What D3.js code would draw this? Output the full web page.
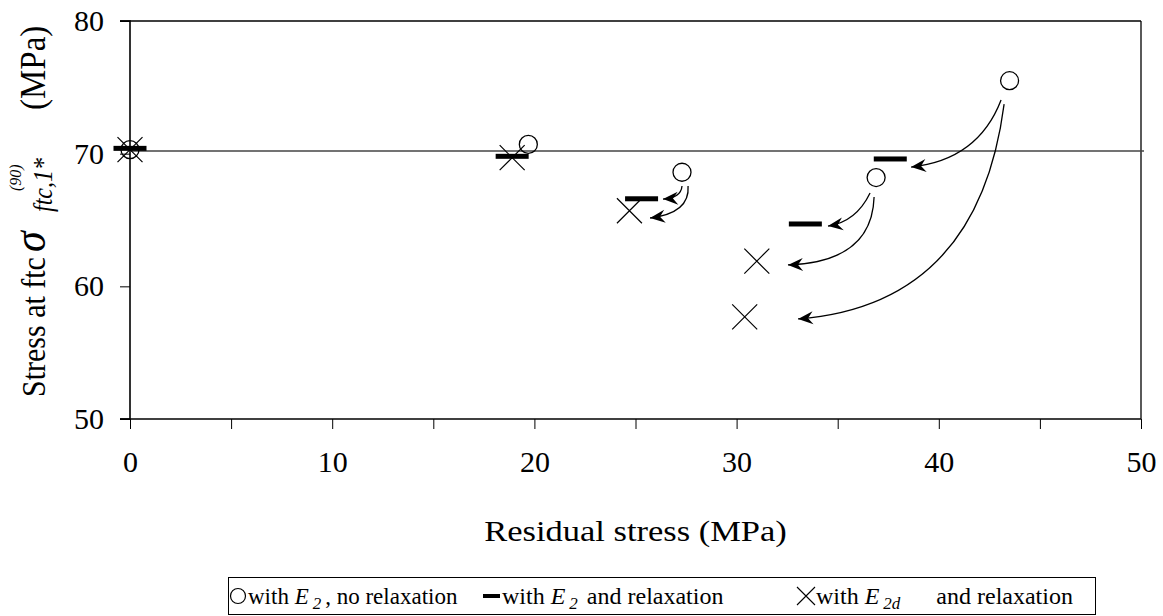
<!DOCTYPE html>
<html>
<head>
<meta charset="utf-8">
<script src="https://cdn.jsdelivr.net/npm/d3@7"></script>
<style>
  body { margin: 0; background: #fff; }
  text { font-family: "Liberation Serif", "Times New Roman", serif; fill: #000; }
</style>
</head>
<body>
<svg id="chart" width="1163" height="616"></svg>
<script>
// with E2, no relaxation (circles)
const noRelaxX = [0, 19.7, 27.3, 36.9, 43.5];
const noRelaxY = [70.3, 70.7, 68.6, 68.2, 75.5];
// with E2 and relaxation (dashes)
const relaxX = [0, 18.9, 25.3, 33.4, 37.6];
const relaxY = [70.4, 69.8, 66.6, 64.7, 69.6];
// with E2d and relaxation (crosses)
const relaxDX = [0, 18.9, 24.7, 31.0, 30.4];
const relaxDY = [70.3, 69.7, 65.7, 61.9, 57.7];

const refLine = 70.2;
const xTicks = [0, 5, 10, 15, 20, 25, 30, 35, 40, 45, 50];
const yTicks = [50, 60, 70, 80];

// curved arrows: start, control, end (data units)
const arrows = [
  [[27.30, 67.56], [27.25, 66.65], [26.36, 66.58]],
  [[27.60, 67.56], [27.70, 65.52], [25.72, 65.15]],
  [[36.60, 67.03], [35.91, 64.85], [34.52, 64.54]],
  [[36.80, 66.73], [36.70, 61.83], [32.54, 61.61]],
  [[43.08, 74.04], [41.94, 69.52], [38.63, 68.99]],
  [[43.23, 73.74], [41.94, 58.59], [33.04, 57.54]]
];

const serif = "'Liberation Serif', 'Times New Roman', serif";
const margin = {top: 21, left: 130, right: 22, bottom: 197};
const W = 1163, H = 616;
const w = W - margin.left - margin.right;
const h = H - margin.top - margin.bottom;

const svg = d3.select("#chart");
const g = svg.append("g").attr("transform", `translate(${margin.left},${margin.top})`);

const x = d3.scaleLinear().domain([0, 50]).range([0, w]);
const y = d3.scaleLinear().domain([50, 80]).range([h, 0]);

// frame top and right
g.append("line").attr("x1", -10).attr("x2", w).attr("y1", 0).attr("y2", 0)
  .attr("stroke", "#000").attr("stroke-width", 1.3);
g.append("line").attr("x1", w).attr("x2", w).attr("y1", 0).attr("y2", h)
  .attr("stroke", "#000").attr("stroke-width", 1.3);

// axes
const yAxis = g.append("g")
  .call(d3.axisLeft(y).tickValues(yTicks).tickSize(10).tickPadding(16).tickFormat(d3.format("d")));
const xAxis = g.append("g").attr("transform", `translate(0,${h})`)
  .call(d3.axisBottom(x).tickValues(xTicks).tickSize(10).tickPadding(22)
    .tickFormat(d => d % 10 === 0 ? d : ""));
[xAxis, yAxis].forEach(a => {
  a.attr("font-family", serif).attr("font-size", 30);
  a.select(".domain").attr("stroke", "#000").attr("stroke-width", 1.6);
  a.selectAll(".tick line").attr("stroke", "#000").attr("stroke-width", 1);
  a.selectAll("text").attr("font-family", serif).style("font-family", serif).style("font-size", "30px");
});
yAxis.select(".domain").attr("d", `M-10,${h}H0V0H-10`);
xAxis.select(".domain").attr("d", `M-10,0H${w}`);

// reference line
g.append("line")
  .attr("x1", x(0)).attr("x2", x(50) + 3)
  .attr("y1", y(refLine)).attr("y2", y(refLine))
  .attr("stroke", "#444").attr("stroke-width", 1.3);

// arrow marker
svg.append("defs").append("marker")
  .attr("id", "head").attr("markerUnits", "userSpaceOnUse")
  .attr("viewBox", "-16 -8 18 16").attr("refX", 0).attr("refY", 0)
  .attr("markerWidth", 18).attr("markerHeight", 16).attr("orient", "auto")
  .append("path").attr("d", "M0,0 L-15,-6.5 L-10,0 L-15,6.5 Z").attr("fill", "#000");

g.selectAll("path.arrow").data(arrows).enter().append("path")
  .attr("class", "arrow")
  .attr("d", d => {
    const p = d3.path();
    p.moveTo(x(d[0][0]), y(d[0][1]));
    p.quadraticCurveTo(x(d[1][0]), y(d[1][1]), x(d[2][0]), y(d[2][1]));
    return p.toString();
  })
  .attr("fill", "none").attr("stroke", "#000").attr("stroke-width", 1.3)
  .attr("marker-end", "url(#head)");

// dashes
const relax = relaxX.map((v, i) => [v, relaxY[i]]);
g.selectAll("rect.dash").data(relax).enter().append("rect")
  .attr("class", "dash")
  .attr("x", d => x(d[0]) - 16.5).attr("y", d => y(d[1]) - 2.5)
  .attr("width", 33).attr("height", 5).attr("fill", "#000");

// crosses
const crossPath = "M-12.5,-12.5L12.5,12.5M-12.5,12.5L12.5,-12.5";
const relaxD = relaxDX.map((v, i) => [v, relaxDY[i]]);
g.selectAll("path.cross").data(relaxD).enter().append("path")
  .attr("class", "cross")
  .attr("transform", d => `translate(${x(d[0])},${y(d[1])})`)
  .attr("d", crossPath).attr("stroke", "#000").attr("stroke-width", 1.2).attr("fill", "none");

// circles
const noRelax = noRelaxX.map((v, i) => [v, noRelaxY[i]]);
g.selectAll("circle.pt").data(noRelax).enter().append("circle")
  .attr("class", "pt")
  .attr("cx", d => x(d[0])).attr("cy", d => y(d[1])).attr("r", 9)
  .attr("fill", "none").attr("stroke", "#000").attr("stroke-width", 1.3);

// x title
svg.append("text")
  .attr("transform", `translate(${margin.left + w / 2},541) scale(1.15,1)`)
  .attr("text-anchor", "middle").style("font-size", "30px")
  .text("Residual stress (MPa)");

// y title (slightly widened across, like the original)
const yt = svg.append("g").attr("transform", "translate(45,0) scale(1.1,1) translate(-45,0) rotate(-90)");
yt.append("text").attr("x", -397).attr("y", 45).style("font-size", "30px").text("Stress at ftc");
yt.append("text").attr("x", -252).attr("y", 45).style("font-size", "42px")
  .style("font-style", "italic").text("σ");
yt.append("text").attr("x", -191).attr("y", 23).style("font-size", "16px")
  .style("font-style", "italic").text("(90)");
yt.append("text").attr("x", -212).attr("y", 51).style("font-size", "24px")
  .style("font-style", "italic").text("ftc,1*");
yt.append("text").attr("x", -110).attr("y", 45).style("font-size", "33px").text("(MPa)");

// legend
const leg = svg.append("g");
leg.append("rect").attr("x", 228.5).attr("y", 577.5).attr("width", 867).attr("height", 37)
  .attr("fill", "#fff").attr("stroke", "#000").attr("stroke-width", 1);
const ly = 604;
leg.append("circle").attr("cx", 238).attr("cy", 596).attr("r", 7.5)
  .attr("fill", "none").attr("stroke", "#000").attr("stroke-width", 1.2);
leg.append("rect").attr("x", 483).attr("y", 594).attr("width", 17).attr("height", 4).attr("fill", "#000");
leg.append("path").attr("transform", "translate(806,596)")
  .attr("d", "M-9,-9L9,9M-9,9L9,-9").attr("stroke", "#000").attr("stroke-width", 1.1);

function legText(x0, size, sub, gap, rest) {
  const t = leg.append("text").attr("x", x0).attr("y", ly).style("font-size", size + "px");
  t.append("tspan").text("with ");
  t.append("tspan").style("font-style", "italic").text("E");
  t.append("tspan").style("font-style", "italic").style("font-size", "17px").attr("dy", 5).attr("dx", 4).text(sub);
  t.append("tspan").attr("dy", -5).attr("dx", gap).text(rest);
}
legText(248, 23, "2", 4, ", no relaxation");
legText(502, 24, "2", 9, "and relaxation");
legText(816, 24, "2d", 36, "and relaxation");
</script>
</body>
</html>
